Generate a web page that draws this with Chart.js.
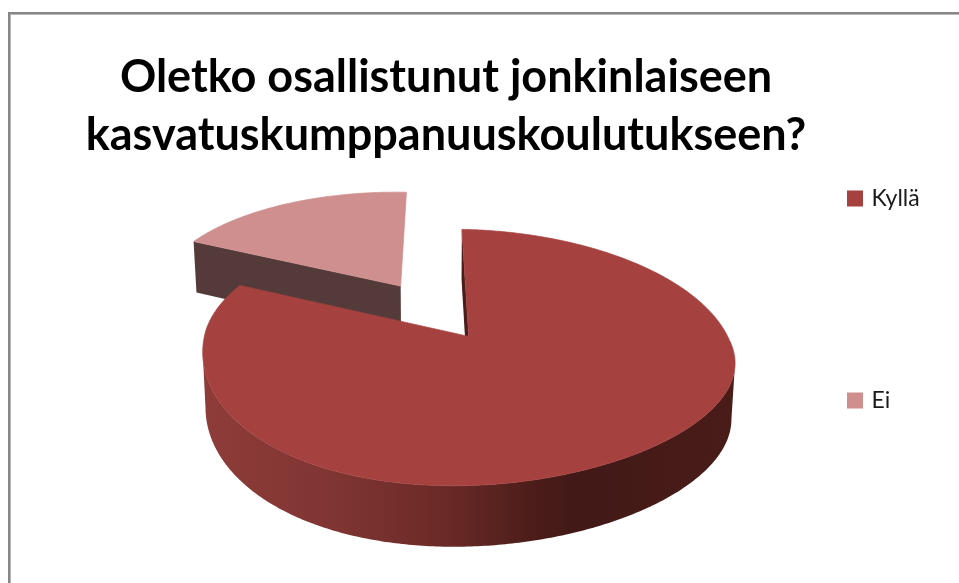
<!DOCTYPE html>
<html>
<head>
<meta charset="utf-8">
<style>
html, body { margin: 0; padding: 0; background: #fff; overflow: hidden; }
#frame { position: absolute; left: 8px; top: 12px; width: 951px; height: 571px; box-sizing: border-box;
         border-left: 2px solid #868686; border-top: 2px solid #868686; box-shadow: inset 1px 1px 0 #b8b8b8; }
#myChart { position: absolute; left: 0; top: 0; }
</style>
<script src="https://cdn.jsdelivr.net/npm/chart.js@4/dist/chart.umd.min.js"></script>
</head>
<body>
<div id="frame"></div>
<canvas id="myChart" width="959" height="583"></canvas>
<script>
var title_lines = ["Oletko osallistunut jonkinlaiseen", "kasvatuskumppanuuskoulutukseen?"];
var categories = ["Kyllä", "Ei"];
var values = [81.5, 18.5];

var top_colors = ["#a5413f", "#cf8f8e"];
var face_colors = ["#4a1c1a", "#553a3a"];

// perspective of the tilted pie, fitted by eye to the picture
var cam = { x0: 434, y0: 310.4, r: 253, a: 116.7, p: 0.165, skew: -0.01, tilt: 15,
            depth: 53.75, depth_a: 4.8, shrink: 0.012, explode: 0.251,
            rim_u: 0.92, tip_u: 0.97, tip_du: -0.002 };

function project(u, v, z) {
    var s = 1 / (1 + cam.p * v);
    return [cam.x0 + cam.r * (1 - cam.shrink * z) * (u + cam.skew * v) * s,
            cam.y0 + cam.depth * z - (cam.a + cam.depth_a * z) * v * s + cam.tilt * u * s * Math.min(v + 0.47, 0.27)];
}

// rim points of one slice, angles come from the arc element
function rimPoints(arc, cu, cv, z) {
    var a0 = arc.startAngle + Math.PI / 2, a1 = arc.endAngle + Math.PI / 2;
    var n = Math.ceil((a1 - a0) * 90), pts = [];
    for (var i = 0; i <= n; i++) {
        var t = a0 + (a1 - a0) * i / n;
        pts.push(project(cu * cam.rim_u + Math.sin(t), cv + Math.cos(t), z));
    }
    return pts;
}

function fillPath(ctx, pts, fill) {
    ctx.beginPath();
    ctx.moveTo(pts[0][0], pts[0][1]);
    for (var i = 1; i < pts.length; i++) ctx.lineTo(pts[i][0], pts[i][1]);
    ctx.closePath();
    ctx.fillStyle = fill;
    ctx.fill();
}

var pie3d = {
    id: "pie3d",
    afterLayout: function (chart) {
        // title is centred over the pie, legend sits at the right edge
        chart.titleBlock.left = 0;
        chart.titleBlock.right = 892;
        chart.titleBlock.top = 49;
        chart.titleBlock.bottom = 49 + chart.titleBlock.height;
        var lw = chart.legend.width, lh = chart.legend.height;
        chart.legend.left = 850 - chart.options.plugins.legend.labels.padding;
        chart.legend.right = chart.legend.left + lw;
        chart.legend.top = 8;
        chart.legend.bottom = 8 + lh;
    },
    beforeDatasetsDraw: function (chart) {
        var ctx = chart.ctx, arcs = chart.getDatasetMeta(0).data;
        var side = ctx.createLinearGradient(204, 0, 736, 0);
        side.addColorStop(0, "#8e3c39");
        side.addColorStop(0.25, "#7f3532");
        side.addColorStop(0.45, "#6b2a27");
        side.addColorStop(0.63, "#4a1c19");
        side.addColorStop(0.7, "#421917");
        side.addColorStop(1, "#491c18");

        // back slice first
        for (var k = arcs.length - 1; k >= 0; k--) {
            var arc = arcs[k];
            var mid = (arc.startAngle + arc.endAngle) / 2 + Math.PI / 2;
            var cu = cam.explode * Math.sin(mid), cv = cam.explode * Math.cos(mid);
            var top = rimPoints(arc, cu, cv, 0), bot = rimPoints(arc, cu, cv, 1);
            var tip0 = project(cu * cam.tip_u + cam.tip_du, cv, 0), tip1 = project(cu * cam.tip_u + cam.tip_du, cv, 1);

            if (k == 0) {
                // outer wall, from the right silhouette round the front to the left one
                var a = 0, b = 0;
                for (var i = 0; i < top.length; i++) {
                    if (top[i][0] > top[a][0]) a = i;
                    if (top[i][0] < top[b][0]) b = i;
                }
                fillPath(ctx, top.slice(a, b + 1).concat(bot.slice(a, b + 1).reverse()), side);
            }
            fillPath(ctx, [tip0, top[0], bot[0], tip1], face_colors[k]);
            fillPath(ctx, [tip0].concat(top), top_colors[k]);
            // closes the light seam between wall and top
            ctx.strokeStyle = top_colors[k];
            ctx.lineWidth = 0.7;
            ctx.stroke();
        }
        return false;
    }
};

var chart = new Chart(document.getElementById("myChart").getContext("2d"), {
    type: "pie",
    data: {
        labels: categories,
        datasets: [{ data: values, backgroundColor: top_colors, borderColor: top_colors, borderWidth: 6 }]
    },
    options: {
        responsive: false,
        animation: false,
        rotation: 0.4,
        plugins: {
            tooltip: { enabled: false },
            title: {
                display: true,
                text: title_lines,
                color: "#000",
                font: { family: "Lato", weight: "bold", size: 45, lineHeight: 1.28 },
                padding: 0
            },
            legend: {
                position: "right",
                align: "start",
                labels: {
                    color: "#1a1a1a",
                    boxWidth: 10,
                    boxHeight: 10,
                    padding: 179,
                    font: { family: "Lato", size: 23 }
                }
            }
        }
    },
    plugins: [pie3d]
});
</script>
</body>
</html>
